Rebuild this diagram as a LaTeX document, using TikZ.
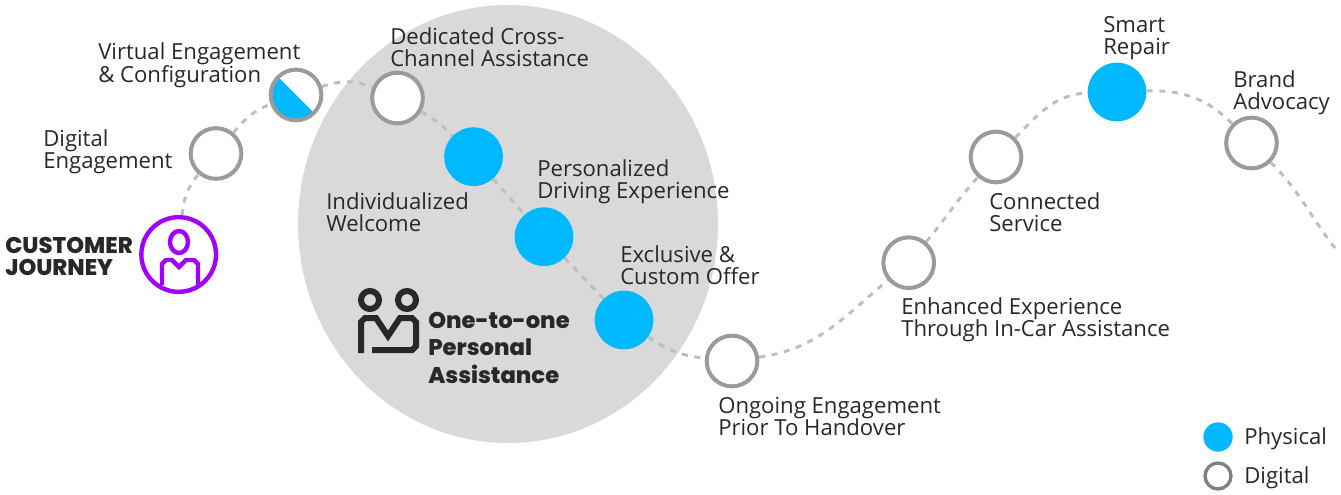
\documentclass[tikz,border=0pt]{standalone}
\usepackage{fontspec}
\setmainfont{Open Sans}
\newfontfamily\headfont{Poppins ExtraBold}
\usetikzlibrary{shapes.geometric}
\definecolor{physblue}{RGB}{0,184,255}
\definecolor{ringgray}{RGB}{155,155,155}
\definecolor{blobgray}{RGB}{217,217,217}
\definecolor{dashgray}{RGB}{190,190,190}
\definecolor{journey}{RGB}{161,0,255}
\definecolor{inkblack}{RGB}{40,40,40}
\tikzset{
  digital/.style={circle,draw=ringgray,line width=3pt,fill=white,minimum size=38pt,inner sep=0pt},
  physical/.style={circle,fill=physblue,minimum size=44pt,inner sep=0pt},
  label/.style={align=left,anchor=north west,inner sep=0pt,text=inkblack,font=\fontsize{16.6}{16.6}\selectfont},
  headlabel/.style={align=left,anchor=north west,inner sep=0pt,text=inkblack,font=\fontsize{17}{16.2}\headfont},
  route/.style={draw=dashgray,line width=2.2pt,dash pattern=on 4.5pt off 5pt},
}
\begin{document}
\begin{tikzpicture}[x=0.75pt,y=0.75pt]
\useasboundingbox (0,-495) rectangle (1341,0);
% grey area
\node[ellipse,fill=blobgray,minimum width=315pt,minimum height=328.5pt,inner sep=0pt] (blob) at (508,-224) {};
% stops
\node[circle,draw=journey,line width=3.3pt,fill=white,minimum size=56pt,inner sep=0pt] (start) at (178.7,-254.5) {};
\node[digital] (engage) at (216,-153.5) {};
\node[digital,path picture={\fill[physblue] (-40,40) -- (40,-40) -- (-40,-40) -- cycle;}] (virtual) at (296,-95) {};
\node[digital] (channel) at (397.5,-98) {};
\node[physical] (welcome) at (473.5,-156.7) {};
\node[physical] (driving) at (544,-236.7) {};
\node[physical] (offer) at (624,-320) {};
\node[digital] (ongoing) at (732,-361) {};
\node[digital] (incar) at (908.7,-262.7) {};
\node[digital] (service) at (996,-157) {};
\node[physical] (repair) at (1117,-92) {};
\node[digital] (advocacy) at (1251.5,-143) {};
\coordinate (exit) at (1335,-248);
% route
\draw[route] (start) to[out=85,in=230] (engage);
\draw[route] (engage) to[out=50,in=200] (virtual);
\draw[route] (virtual) to[out=18,in=157] (channel);
\draw[route] (channel) to[out=-30,in=135] (welcome);
\draw[route] (welcome) -- (driving);
\draw[route] (driving) -- (offer);
\draw[route] (offer) to[out=-35,in=174] (ongoing);
\draw[route] (ongoing) to[out=8,in=220] (incar);
\draw[route] (incar) to[out=50,in=228] (service);
\draw[route] (service) to[out=45,in=182] (repair);
\draw[route] (repair) to[out=2,in=135] (advocacy);
\draw[route] (advocacy) to[out=-45,in=128] (exit);
% person in the start circle
\draw[journey,line width=3.3pt] (179,-242) ellipse (9 and 11);
\draw[journey,line width=3.3pt] (162,-285) -- (162,-264) -- (166,-260) -- (172,-260) -- (179,-267) -- (186,-260) -- (194,-260) -- (198,-264) -- (198,-285);
% pair icon
\draw[inkblack,line width=4.5pt] (370,-300) circle (9);
\draw[inkblack,line width=4.5pt] (407,-300) circle (9);
\draw[inkblack,line width=4.5pt] (361,-353) -- (361,-322) -- (365,-318) -- (376,-318) -- (388,-336) -- (400,-318) -- (412,-318) -- (416,-322) -- (416,-346) -- (412,-350) -- (372,-350);
% texts
\node[label] (engagetxt) at (43,-129) {Digital\\Engagement};
\node[label] (virtualtxt) at (98,-42) {Virtual Engagement\\\& Configuration};
\node[label] (channeltxt) at (390,-27) {Dedicated Cross-\\Channel Assistance};
\node[label] (welcometxt) at (326,-192) {Individualized\\Welcome};
\node[label] (drivingtxt) at (537,-159) {Personalized\\Driving Experience};
\node[label] (offertxt) at (620,-245) {Exclusive \&\\Custom Offer};
\node[label] (ongoingtxt) at (718,-397) {Ongoing Engagement\\Prior To Handover};
\node[label] (incartxt) at (901,-297) {Enhanced Experience\\Through In-Car Assistance};
\node[label] (servicetxt) at (989,-192) {Connected\\Service};
\node[label] (repairtxt) at (1103,-16) {Smart\\Repair};
\node[label] (advocacytxt) at (1233,-70) {Brand\\Advocacy};
\node[headlabel] (starttxt) at (5,-237) {CUSTOMER\\JOURNEY};
\node[headlabel,font=\fontsize{17}{20.6}\headfont] (blobtxt) at (428,-312) {One-to-one\\Personal\\Assistance};
% legend
\node[physical,minimum size=22pt] (legphys) at (1218,-437) {};
\node[digital,draw=gray,minimum size=19.5pt,line width=2.5pt] (legdig) at (1218,-476) {};
\node[label,anchor=west] (legphystxt) at (1244,-439) {Physical};
\node[label,anchor=west] (legdigtxt) at (1244,-478) {Digital};
\end{tikzpicture}
\end{document}
